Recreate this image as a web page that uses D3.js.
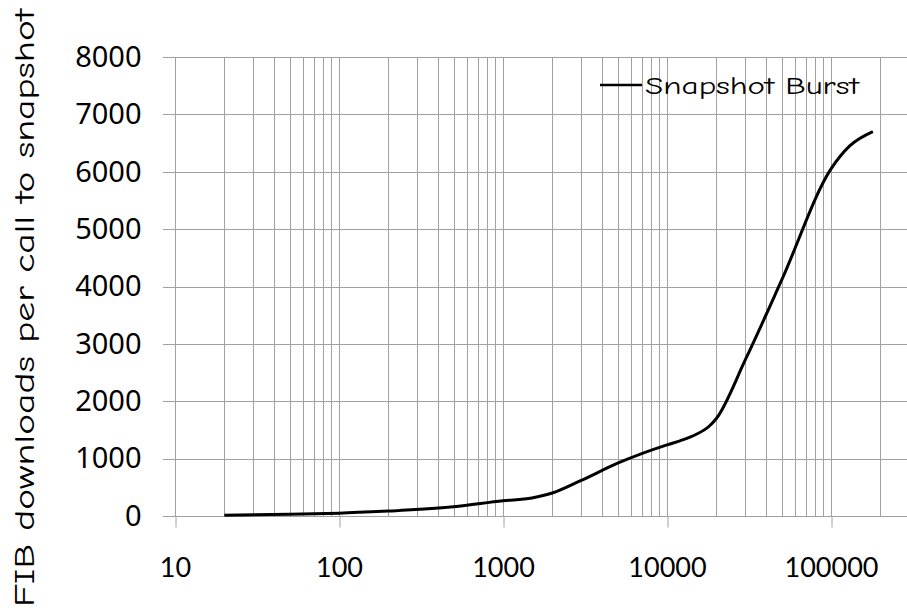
<!DOCTYPE html>
<html>
<head>
<meta charset="utf-8">
<style>
       body {
              margin: 0;
              background: #fff;
       }
       svg {
              width: 907px;
              height: 612px;
              display: block;
       }
       .grid line {
              stroke: #a0a0a0;
              stroke-width: 1;
       }
       .axis path, .axis line {
              stroke: #a0a0a0;
              stroke-width: 1;
       }
       .legend text, .axis-title {
              font-family: "Comic Sans MS", "Comic Neue", "DejaVu Sans", sans-serif;
              fill: #000;
       }
       .y-axis text {
              font-family: "Noto Sans", "DejaVu Sans", sans-serif;
              fill: #000;
       }
       .x-axis text {
              font-family: "Lato", "DejaVu Sans", sans-serif;
              fill: #000;
       }
       .series {
              fill: none;
              stroke: #000;
              stroke-width: 3;
       }
</style>
</head>
<body>
<script src="https://cdn.jsdelivr.net/npm/d3@7"></script>
<script>

    var xValues = [20, 50, 100, 200, 500, 1000, 1500, 2000, 3000, 5000,
                   10000, 12000, 15000, 18000, 20000, 30000, 50000, 100000, 130000, 180000],
        yValues = [15, 30, 50, 85, 160, 265, 315, 400, 620, 920,
                   1240, 1310, 1420, 1560, 1700, 2720, 4110, 6050, 6450, 6700],
        xTicks = [10, 100, 1000, 10000, 100000],
        yTicks = [0, 1000, 2000, 3000, 4000, 5000, 6000, 7000, 8000],
        seriesName = "Snapshot Burst",
        yTitle = "FIB downloads per call to snapshot";

    var plotLeft = 175,
        plotRight = 907,
        plotTop = 57,
        plotBottom = 516;

    var x = d3.scaleLog().domain([10, 100000]).range([plotLeft, 831]);
    var y = d3.scaleLinear().domain([0, 8000]).range([plotBottom, plotTop]);

    // minor grid values 10..200000
    var gridX = [];
    for (var p = 10; p <= 100000; p *= 10) {
        for (var m = 1; m <= 9; m++) {
            if (p * m <= 200000) gridX.push(p * m);
        }
    }

    var svg = d3.select("body").append("svg");

    var grid = svg.append("g").attr("class", "grid");

    grid.selectAll("line.v")
        .data(gridX)
      .enter().append("line")
        .attr("class", "v")
        .attr("x1", function(d) { return Math.round(x(d)) + 0.5; })
        .attr("x2", function(d) { return Math.round(x(d)) + 0.5; })
        .attr("y1", plotTop)
        .attr("y2", plotBottom);

    grid.selectAll("line.h")
        .data(yTicks)
      .enter().append("line")
        .attr("class", "h")
        .attr("x1", plotLeft - 12)
        .attr("x2", plotRight)
        .attr("y1", function(d) { return Math.round(y(d)) + 0.5; })
        .attr("y2", function(d) { return Math.round(y(d)) + 0.5; });

    var xAxis = svg.append("g")
        .attr("class", "axis x-axis")
        .attr("transform", "translate(0," + (Math.round(plotBottom) + 0.5) + ")")
        .call(d3.axisBottom(x).tickValues(xTicks).tickSize(11).tickPadding(30)
              .tickFormat(function(d) { return String(d); }));
    xAxis.select(".domain").remove();
    xAxis.selectAll("line").attr("transform", "translate(0.5,0)");
    xAxis.selectAll("text").attr("font-size", 27);

    var yAxis = svg.append("g")
        .attr("class", "axis y-axis")
        .attr("transform", "translate(" + (plotLeft + 0.5) + ",0)")
        .call(d3.axisLeft(y).tickValues(yTicks).tickSize(0).tickPadding(34)
              .tickFormat(function(d) { return String(d); }));
    yAxis.select(".domain").remove();
    yAxis.selectAll("text").attr("font-size", 29);

    var line = d3.line()
        .x(function(d, i) { return x(xValues[i]); })
        .y(function(d) { return y(d); })
        .curve(d3.curveMonotoneX);

    svg.append("path")
        .datum(yValues)
        .attr("class", "series")
        .attr("d", line);

    var legend = svg.append("g").attr("class", "legend");
    legend.append("line")
        .attr("x1", 600).attr("x2", 642)
        .attr("y1", 85).attr("y2", 85)
        .attr("stroke", "#000").attr("stroke-width", 2.5);
    legend.append("text")
        .attr("x", 645).attr("y", 94)
        .attr("font-size", 24)
        .attr("textLength", 214)
        .attr("lengthAdjust", "spacingAndGlyphs")
        .text(seriesName);

    svg.append("text")
        .attr("class", "axis-title")
        .attr("transform", "translate(34,308) rotate(-90)")
        .attr("text-anchor", "middle")
        .attr("font-size", 29)
        .attr("textLength", 598)
        .attr("lengthAdjust", "spacingAndGlyphs")
        .text(yTitle);

</script>
</body>
</html>
